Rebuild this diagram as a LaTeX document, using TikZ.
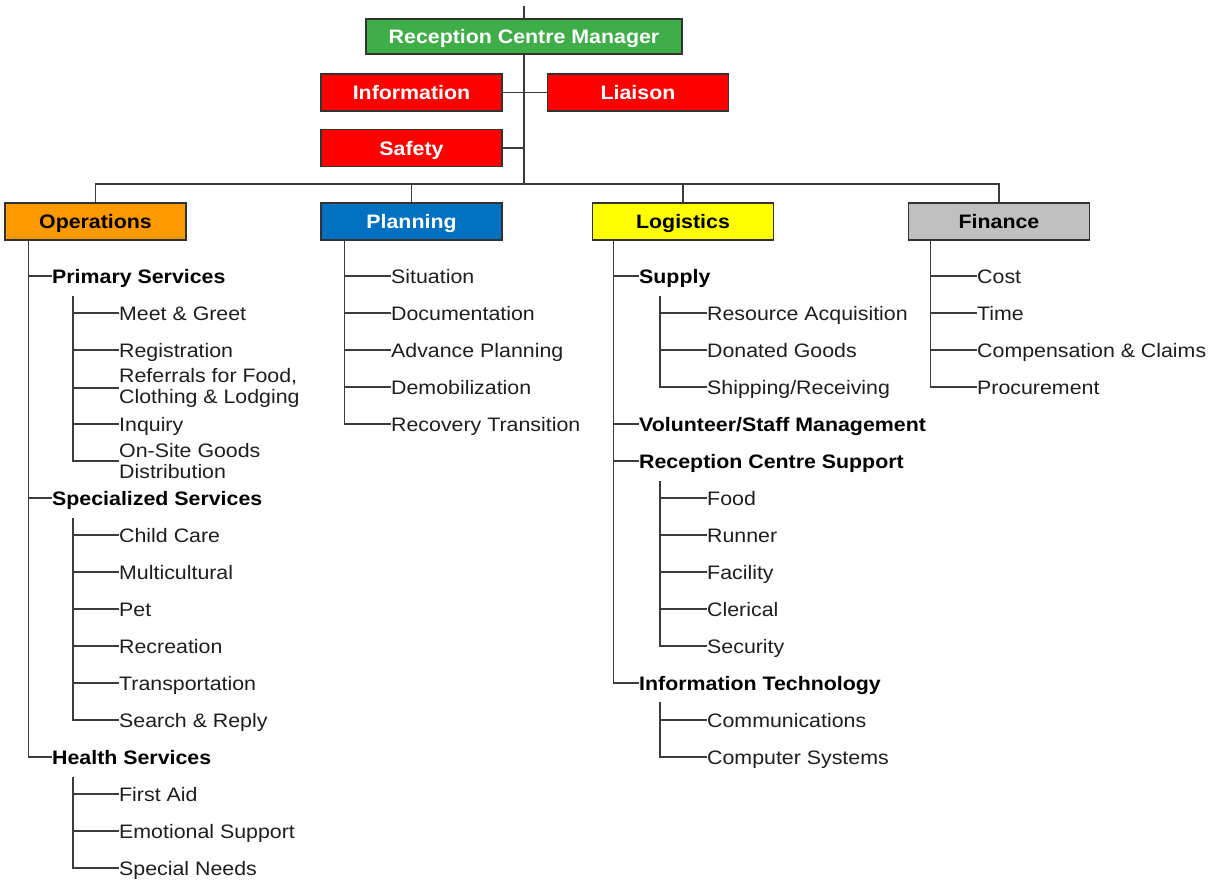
\documentclass[tikz,border=0pt]{standalone}
\usepackage{fontspec}
\setmainfont{Liberation Sans}[FakeStretch=1.095]
\usepackage{xcolor}
\usetikzlibrary{positioning}
\definecolor{mgrgreen}{RGB}{63,174,73}
\definecolor{cmdred}{RGB}{255,0,0}
\definecolor{opsorange}{RGB}{255,153,0}
\definecolor{planblue}{RGB}{0,112,192}
\definecolor{logyellow}{RGB}{255,255,0}
\definecolor{fingray}{RGB}{192,192,192}
\definecolor{edge}{RGB}{50,50,50}
\definecolor{wire}{RGB}{60,60,60}
\definecolor{ink}{RGB}{30,30,30}
\newcommand{\chartfont}{\fontsize{19.5}{21}\selectfont}
\tikzset{
    chiefbox/.style={rectangle, draw=edge, line width=1.5pt, minimum width=181pt, minimum height=37pt, text centered, inner sep=0pt, text height=14pt, text depth=0pt, font=\chartfont\bfseries},
    cmdbox/.style={chiefbox, fill=cmdred, text=white},
    branch/.style={anchor=west, inner sep=0pt, text height=16pt, text depth=2pt, font=\chartfont\bfseries, text=black},
    item/.style={anchor=west, inner sep=0pt, text height=16pt, text depth=2pt, font=\chartfont, text=ink},
    itemtwo/.style={anchor=west, inner sep=0pt, align=left, font=\chartfont, text=ink},
    line/.style={draw=wire, line width=1.4pt}
}
\begin{document}
\begin{tikzpicture}[x=1pt, y=-1pt]
        \useasboundingbox (0,0) rectangle (1212,880);

        % Command staff
        \coordinate (top) at (524,6);
        \node [chiefbox, fill=mgrgreen, text=white, minimum width=316pt, minimum height=35pt, line width=2pt, draw=black!80] (manager) at (524,37) {Reception Centre Manager};
        \node [cmdbox] (info) at (411.5,92.5) {Information};
        \node [cmdbox, right=44pt of info] (liaison) {Liaison};
        \node [cmdbox, below=17pt of info] (safety) {Safety};
        \coordinate (bus) at (524,184);

        % Sections
        \node [chiefbox, fill=opsorange] (ops) at (95.5,221.5) {Operations};
        \node [chiefbox, fill=planblue, text=white] (plan) at (411.5,221.5) {Planning};
        \node [chiefbox, fill=logyellow] (logi) at (683,221.5) {Logistics};
        \node [chiefbox, fill=fingray] (fin) at (999,221.5) {Finance};

        % Operations
        \coordinate (opsT) at ([xshift=24pt]ops.south west);
        \node [branch] (prim) at (52,276) {Primary Services};
        \coordinate (primT) at (73,296);
        \node [item] (meet) at (119,313) {Meet \& Greet};
        \node [item] (reg) at (119,350) {Registration};
        \node [itemtwo] (refer) at (119,388) {Referrals for Food,\\Clothing \& Lodging};
        \node [item] (inq) at (119,424) {Inquiry};
        \node [itemtwo] (onsite) at (119,461) {On-Site Goods\\Distribution};
        \node [branch] (spec) at (52,498) {Specialized Services};
        \coordinate (specT) at (73,518);
        \node [item] (child) at (119,535) {Child Care};
        \node [item] (multi) at (119,572) {Multicultural};
        \node [item] (pet) at (119,609) {Pet};
        \node [item] (recr) at (119,646) {Recreation};
        \node [item] (trans) at (119,683) {Transportation};
        \node [item] (search) at (119,720) {Search \& Reply};
        \node [branch] (health) at (52,757) {Health Services};
        \coordinate (healthT) at (73,777);
        \node [item] (aid) at (119,794) {First Aid};
        \node [item] (emo) at (119,831) {Emotional Support};
        \node [item] (needs) at (119,868) {Special Needs};

        % Planning
        \coordinate (planT) at ([xshift=24pt]plan.south west);
        \node [item] (situ) at (391,276) {Situation};
        \node [item] (docu) at (391,313) {Documentation};
        \node [item] (adv) at (391,350) {Advance Planning};
        \node [item] (demob) at (391,387) {Demobilization};
        \node [item] (recov) at (391,424) {Recovery Transition};

        % Logistics
        \coordinate (logT) at ([xshift=22pt]logi.south west);
        \node [branch] (supply) at (639,276) {Supply};
        \coordinate (supT) at (660,296);
        \node [item] (resacq) at (707,313) {Resource Acquisition};
        \node [item] (donated) at (707,350) {Donated Goods};
        \node [item] (ship) at (707,387) {Shipping/Receiving};
        \node [branch] (vol) at (639,424) {Volunteer/Staff Management};
        \node [branch] (rcs) at (639,461) {Reception Centre Support};
        \coordinate (rcsT) at (660,481);
        \node [item] (food) at (707,498) {Food};
        \node [item] (runner) at (707,535) {Runner};
        \node [item] (facil) at (707,572) {Facility};
        \node [item] (cler) at (707,609) {Clerical};
        \node [item] (secu) at (707,646) {Security};
        \node [branch] (itech) at (639,683) {Information Technology};
        \coordinate (itT) at (660,702);
        \node [item] (comms) at (707,720) {Communications};
        \node [item] (compsys) at (707,757) {Computer Systems};

        % Finance
        \coordinate (finT) at ([xshift=23pt]fin.south west);
        \node [item] (cost) at (977,276) {Cost};
        \node [item] (time) at (977,313) {Time};
        \node [item] (claims) at (977,350) {Compensation \& Claims};
        \node [item] (proc) at (977,387) {Procurement};

        % Paths
        \draw [line] (top) -- (manager.north);
        \draw [line] (manager.south) -- (bus);
        \draw [line] (info.east) -- (liaison.west);
        \draw [line] (safety.east) -- (safety.east -| bus);
        \draw [line] (ops.north) |- (bus) -| (fin.north);
        \draw [line] (plan.north) -- (plan.north |- bus);
        \draw [line] (logi.north) -- (logi.north |- bus);

        \draw [line] (opsT) |- (prim.west);
        \draw [line] (opsT) |- (spec.west);
        \draw [line] (opsT) |- (health.west);
        \draw [line] (primT) |- (meet.west);
        \draw [line] (primT) |- (reg.west);
        \draw [line] (primT) |- (refer.west);
        \draw [line] (primT) |- (inq.west);
        \draw [line] (primT) |- (onsite.west);
        \draw [line] (specT) |- (child.west);
        \draw [line] (specT) |- (multi.west);
        \draw [line] (specT) |- (pet.west);
        \draw [line] (specT) |- (recr.west);
        \draw [line] (specT) |- (trans.west);
        \draw [line] (specT) |- (search.west);
        \draw [line] (healthT) |- (aid.west);
        \draw [line] (healthT) |- (emo.west);
        \draw [line] (healthT) |- (needs.west);

        \draw [line] (planT) |- (situ.west);
        \draw [line] (planT) |- (docu.west);
        \draw [line] (planT) |- (adv.west);
        \draw [line] (planT) |- (demob.west);
        \draw [line] (planT) |- (recov.west);

        \draw [line] (logT) |- (supply.west);
        \draw [line] (logT) |- (vol.west);
        \draw [line] (logT) |- (rcs.west);
        \draw [line] (logT) |- (itech.west);
        \draw [line] (supT) |- (resacq.west);
        \draw [line] (supT) |- (donated.west);
        \draw [line] (supT) |- (ship.west);
        \draw [line] (rcsT) |- (food.west);
        \draw [line] (rcsT) |- (runner.west);
        \draw [line] (rcsT) |- (facil.west);
        \draw [line] (rcsT) |- (cler.west);
        \draw [line] (rcsT) |- (secu.west);
        \draw [line] (itT) |- (comms.west);
        \draw [line] (itT) |- (compsys.west);

        \draw [line] (finT) |- (cost.west);
        \draw [line] (finT) |- (time.west);
        \draw [line] (finT) |- (claims.west);
        \draw [line] (finT) |- (proc.west);

    \end{tikzpicture}
\end{document}
